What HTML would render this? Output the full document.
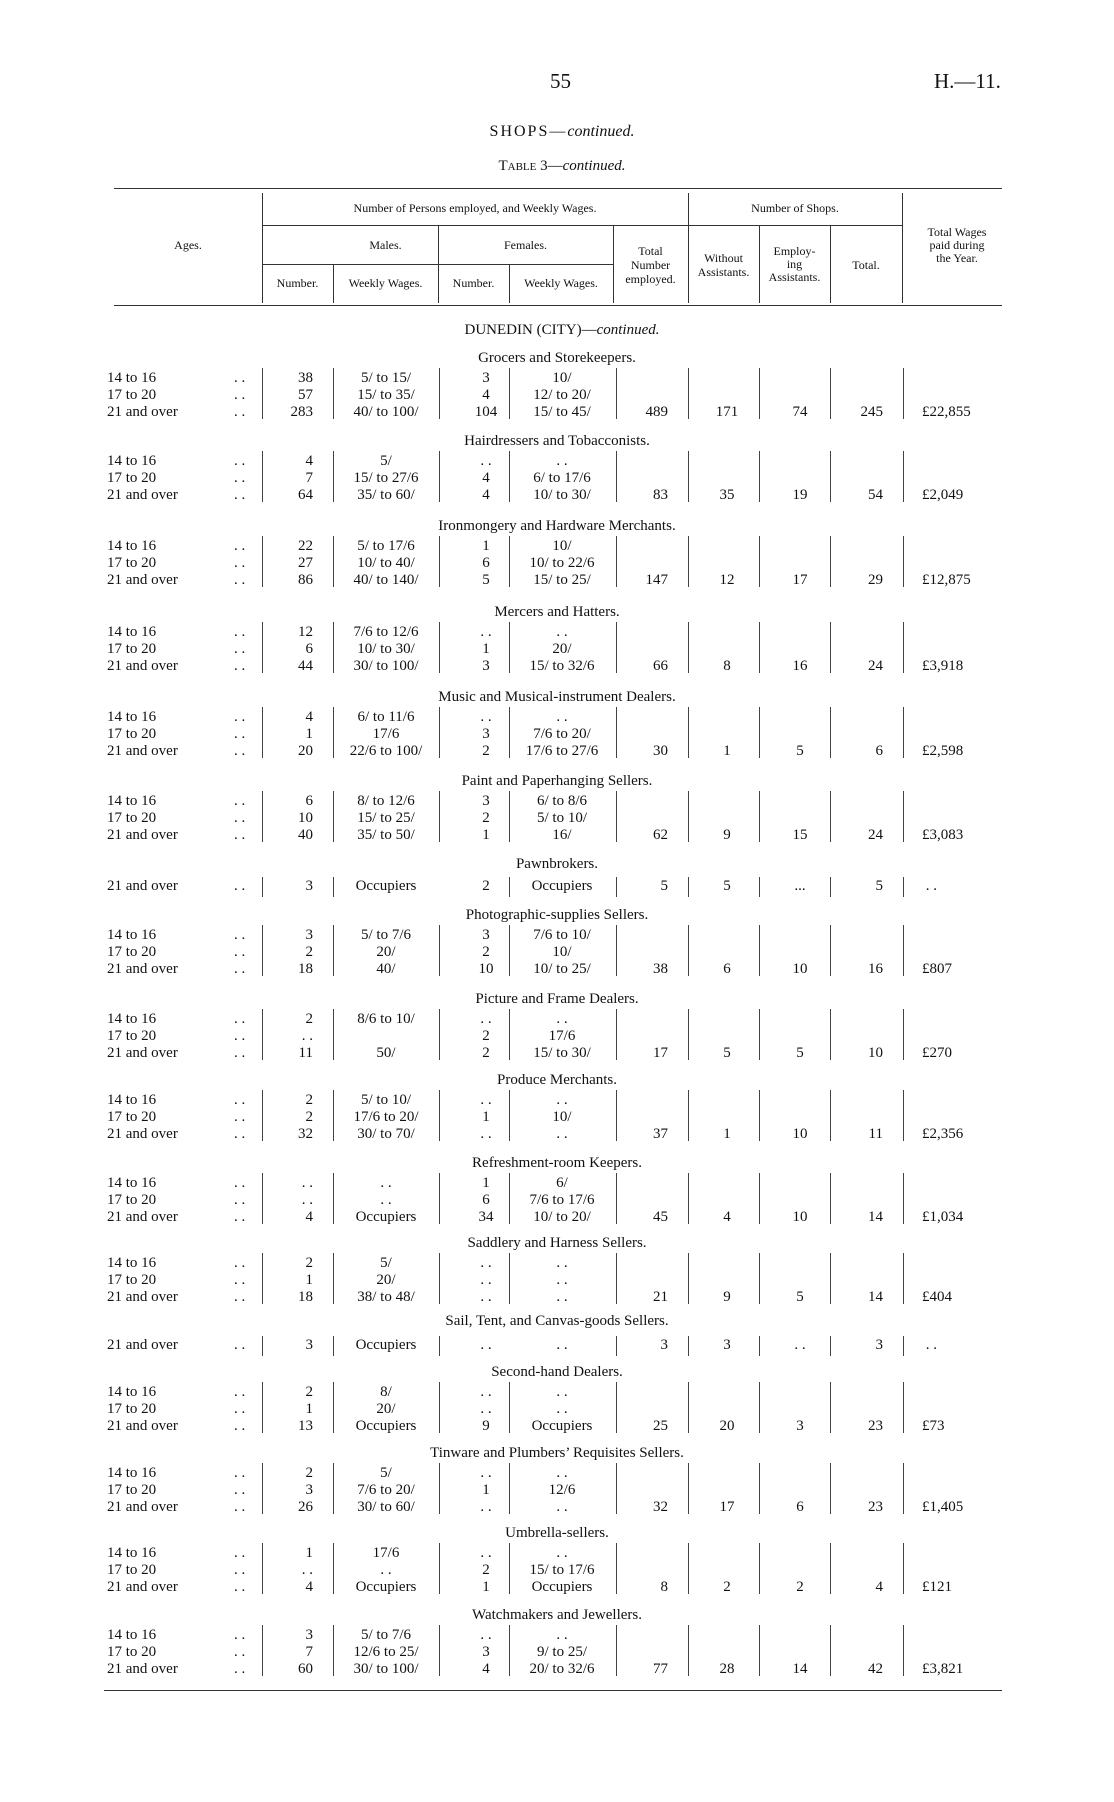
<!DOCTYPE html>
<html><head><meta charset="utf-8"><style>
body{margin:0;width:1114px;height:1802px;background:#fff;position:relative;font-family:"Liberation Serif",serif;color:#111;overflow:hidden}
.t{position:absolute;white-space:nowrap}
.h{position:absolute;font-size:12px;line-height:14px;text-align:center;white-space:nowrap}
.hr{position:absolute;height:0;border-top:1.5px solid #333}
.vl{position:absolute;width:0;border-left:1px solid #333}
.sec{position:absolute;left:0;width:1114px;height:70px}
.ti{position:absolute;left:0;width:1114px;text-align:center;font-size:15px;line-height:18px;top:0}
.r{position:absolute;left:0;width:1114px;height:18px;font-size:15px;line-height:18px}
.r span{position:absolute;top:0;white-space:nowrap}
.a{left:107px}.d{left:234px}
.mn{left:255px;width:58px;text-align:right}
.mw{left:336px;width:100px;text-align:center}
.fn{left:461px;width:50px;text-align:center}
.fw{left:511px;width:102px;text-align:center}
.tn{left:612px;width:56px;text-align:right}
.wo{left:694px;width:66px;text-align:center}
.em{left:767px;width:66px;text-align:center}
.to{left:833px;width:50px;text-align:right}
.wg{left:922px}
.v{position:absolute;width:0;border-left:1px solid #444;top:19px;height:51px}
.v1{position:absolute;width:0;border-left:1px solid #444;height:20px}
.s1{left:262px}.s2{left:333px}.s3{left:439px}.s4{left:509px}.s5{left:616px}.s6{left:688px}.s7{left:759px}.s8{left:830px}.s9{left:903px}
</style></head><body>
<div class="t" style="left:550px;top:69px;font-size:21px">55</div>
<div class="t" style="left:934px;top:69px;font-size:21px">H.—11.</div>
<div class="t" style="left:0;width:1124px;text-align:center;top:123px;font-size:16px;letter-spacing:2px">SHOPS—<i style="letter-spacing:0">continued.</i></div>
<div class="t" style="left:0;width:1124px;text-align:center;top:158px;font-size:15px"><span style="font-variant:small-caps">Table</span> 3—<i>continued.</i></div>

<div class="hr" style="left:114px;width:888px;top:188px"></div>
<div class="hr" style="left:114px;width:888px;top:305px"></div>
<div class="hr" style="left:262px;width:426px;top:225px;border-top-width:1px"></div>
<div class="hr" style="left:688px;width:214px;top:225px;border-top-width:1px"></div>
<div class="hr" style="left:262px;width:351px;top:264px;border-top-width:1px"></div>
<div class="vl" style="left:262px;top:193px;height:110px"></div>
<div class="vl" style="left:333px;top:264px;height:39px"></div>
<div class="vl" style="left:438px;top:225px;height:78px"></div>
<div class="vl" style="left:509px;top:264px;height:39px"></div>
<div class="vl" style="left:613px;top:225px;height:78px"></div>
<div class="vl" style="left:688px;top:193px;height:110px"></div>
<div class="vl" style="left:759px;top:225px;height:78px"></div>
<div class="vl" style="left:830px;top:225px;height:78px"></div>
<div class="vl" style="left:902px;top:193px;height:110px"></div>
<div class="h" style="left:148px;width:80px;top:238px">Ages.</div>
<div class="h" style="left:262px;width:426px;top:201px">Number of Persons employed, and Weekly Wages.</div>
<div class="h" style="left:688px;width:214px;top:201px">Number of Shops.</div>
<div class="h" style="left:902px;width:110px;top:226px;line-height:13px">Total Wages<br>paid during<br>the Year.</div>
<div class="h" style="left:333px;width:105px;top:238px">Males.</div>
<div class="h" style="left:438px;width:175px;top:238px">Females.</div>
<div class="h" style="left:613px;width:75px;top:244px">Total<br>Number<br>employed.</div>
<div class="h" style="left:688px;width:71px;top:251px">Without<br>Assistants.</div>
<div class="h" style="left:759px;width:71px;top:245px;line-height:13px">Employ-<br>ing<br>Assistants.</div>
<div class="h" style="left:830px;width:72px;top:258px">Total.</div>
<div class="h" style="left:262px;width:71px;top:276px">Number.</div>
<div class="h" style="left:333px;width:105px;top:276px">Weekly Wages.</div>
<div class="h" style="left:438px;width:71px;top:276px">Number.</div>
<div class="h" style="left:509px;width:104px;top:276px">Weekly Wages.</div>

<div class="t" style="left:0;width:1124px;text-align:center;top:322px;font-size:15px">DUNEDIN (CITY)—<i>continued.</i></div>

<div class="sec" style="top:349px"><div class="ti">Grocers and Storekeepers.</div>
<div class="v s1"></div><div class="v s2"></div><div class="v s3"></div><div class="v s4"></div><div class="v s5"></div><div class="v s6"></div><div class="v s7"></div><div class="v s8"></div><div class="v s9"></div>
<div class="r" style="top:20px"><span class="a">14 to 16</span><span class="d">. .</span><span class="mn">38</span><span class="mw">5/ to 15/</span><span class="fn">3</span><span class="fw">10/</span></div>
<div class="r" style="top:37px"><span class="a">17 to 20</span><span class="d">. .</span><span class="mn">57</span><span class="mw">15/ to 35/</span><span class="fn">4</span><span class="fw">12/ to 20/</span></div>
<div class="r" style="top:54px"><span class="a">21 and over</span><span class="d">. .</span><span class="mn">283</span><span class="mw">40/ to 100/</span><span class="fn">104</span><span class="fw">15/ to 45/</span><span class="tn">489</span><span class="wo">171</span><span class="em">74</span><span class="to">245</span><span class="wg">£22,855</span></div></div>

<div class="sec" style="top:432px"><div class="ti">Hairdressers and Tobacconists.</div>
<div class="v s1"></div><div class="v s2"></div><div class="v s3"></div><div class="v s4"></div><div class="v s5"></div><div class="v s6"></div><div class="v s7"></div><div class="v s8"></div><div class="v s9"></div>
<div class="r" style="top:20px"><span class="a">14 to 16</span><span class="d">. .</span><span class="mn">4</span><span class="mw">5/</span><span class="fn">. .</span><span class="fw">. .</span></div>
<div class="r" style="top:37px"><span class="a">17 to 20</span><span class="d">. .</span><span class="mn">7</span><span class="mw">15/ to 27/6</span><span class="fn">4</span><span class="fw">6/ to 17/6</span></div>
<div class="r" style="top:54px"><span class="a">21 and over</span><span class="d">. .</span><span class="mn">64</span><span class="mw">35/ to 60/</span><span class="fn">4</span><span class="fw">10/ to 30/</span><span class="tn">83</span><span class="wo">35</span><span class="em">19</span><span class="to">54</span><span class="wg">£2,049</span></div></div>

<div class="sec" style="top:517px"><div class="ti">Ironmongery and Hardware Merchants.</div>
<div class="v s1"></div><div class="v s2"></div><div class="v s3"></div><div class="v s4"></div><div class="v s5"></div><div class="v s6"></div><div class="v s7"></div><div class="v s8"></div><div class="v s9"></div>
<div class="r" style="top:20px"><span class="a">14 to 16</span><span class="d">. .</span><span class="mn">22</span><span class="mw">5/ to 17/6</span><span class="fn">1</span><span class="fw">10/</span></div>
<div class="r" style="top:37px"><span class="a">17 to 20</span><span class="d">. .</span><span class="mn">27</span><span class="mw">10/ to 40/</span><span class="fn">6</span><span class="fw">10/ to 22/6</span></div>
<div class="r" style="top:54px"><span class="a">21 and over</span><span class="d">. .</span><span class="mn">86</span><span class="mw">40/ to 140/</span><span class="fn">5</span><span class="fw">15/ to 25/</span><span class="tn">147</span><span class="wo">12</span><span class="em">17</span><span class="to">29</span><span class="wg">£12,875</span></div></div>

<div class="sec" style="top:603px"><div class="ti">Mercers and Hatters.</div>
<div class="v s1"></div><div class="v s2"></div><div class="v s3"></div><div class="v s4"></div><div class="v s5"></div><div class="v s6"></div><div class="v s7"></div><div class="v s8"></div><div class="v s9"></div>
<div class="r" style="top:20px"><span class="a">14 to 16</span><span class="d">. .</span><span class="mn">12</span><span class="mw">7/6 to 12/6</span><span class="fn">. .</span><span class="fw">. .</span></div>
<div class="r" style="top:37px"><span class="a">17 to 20</span><span class="d">. .</span><span class="mn">6</span><span class="mw">10/ to 30/</span><span class="fn">1</span><span class="fw">20/</span></div>
<div class="r" style="top:54px"><span class="a">21 and over</span><span class="d">. .</span><span class="mn">44</span><span class="mw">30/ to 100/</span><span class="fn">3</span><span class="fw">15/ to 32/6</span><span class="tn">66</span><span class="wo">8</span><span class="em">16</span><span class="to">24</span><span class="wg">£3,918</span></div></div>

<div class="sec" style="top:688px"><div class="ti">Music and Musical-instrument Dealers.</div>
<div class="v s1"></div><div class="v s2"></div><div class="v s3"></div><div class="v s4"></div><div class="v s5"></div><div class="v s6"></div><div class="v s7"></div><div class="v s8"></div><div class="v s9"></div>
<div class="r" style="top:20px"><span class="a">14 to 16</span><span class="d">. .</span><span class="mn">4</span><span class="mw">6/ to 11/6</span><span class="fn">. .</span><span class="fw">. .</span></div>
<div class="r" style="top:37px"><span class="a">17 to 20</span><span class="d">. .</span><span class="mn">1</span><span class="mw">17/6</span><span class="fn">3</span><span class="fw">7/6 to 20/</span></div>
<div class="r" style="top:54px"><span class="a">21 and over</span><span class="d">. .</span><span class="mn">20</span><span class="mw">22/6 to 100/</span><span class="fn">2</span><span class="fw">17/6 to 27/6</span><span class="tn">30</span><span class="wo">1</span><span class="em">5</span><span class="to">6</span><span class="wg">£2,598</span></div></div>

<div class="sec" style="top:772px"><div class="ti">Paint and Paperhanging Sellers.</div>
<div class="v s1"></div><div class="v s2"></div><div class="v s3"></div><div class="v s4"></div><div class="v s5"></div><div class="v s6"></div><div class="v s7"></div><div class="v s8"></div><div class="v s9"></div>
<div class="r" style="top:20px"><span class="a">14 to 16</span><span class="d">. .</span><span class="mn">6</span><span class="mw">8/ to 12/6</span><span class="fn">3</span><span class="fw">6/ to 8/6</span></div>
<div class="r" style="top:37px"><span class="a">17 to 20</span><span class="d">. .</span><span class="mn">10</span><span class="mw">15/ to 25/</span><span class="fn">2</span><span class="fw">5/ to 10/</span></div>
<div class="r" style="top:54px"><span class="a">21 and over</span><span class="d">. .</span><span class="mn">40</span><span class="mw">35/ to 50/</span><span class="fn">1</span><span class="fw">16/</span><span class="tn">62</span><span class="wo">9</span><span class="em">15</span><span class="to">24</span><span class="wg">£3,083</span></div></div>

<div class="sec" style="top:855px"><div class="ti">Pawnbrokers.</div>
<div class="v1 s1" style="top:22px"></div><div class="v1 s2" style="top:22px"></div><div class="v1 s4" style="top:22px"></div><div class="v1 s5" style="top:22px"></div><div class="v1 s6" style="top:22px"></div><div class="v1 s7" style="top:22px"></div><div class="v1 s8" style="top:22px"></div><div class="v1 s9" style="top:22px"></div>
<div class="r" style="top:22px"><span class="a">21 and over</span><span class="d">. .</span><span class="mn">3</span><span class="mw">Occupiers</span><span class="fn">2</span><span class="fw">Occupiers</span><span class="tn">5</span><span class="wo">5</span><span class="em">...</span><span class="to">5</span><span class="wg">&nbsp;. .</span></div></div>

<div class="sec" style="top:906px"><div class="ti">Photographic-supplies Sellers.</div>
<div class="v s1"></div><div class="v s2"></div><div class="v s3"></div><div class="v s4"></div><div class="v s5"></div><div class="v s6"></div><div class="v s7"></div><div class="v s8"></div><div class="v s9"></div>
<div class="r" style="top:20px"><span class="a">14 to 16</span><span class="d">. .</span><span class="mn">3</span><span class="mw">5/ to 7/6</span><span class="fn">3</span><span class="fw">7/6 to 10/</span></div>
<div class="r" style="top:37px"><span class="a">17 to 20</span><span class="d">. .</span><span class="mn">2</span><span class="mw">20/</span><span class="fn">2</span><span class="fw">10/</span></div>
<div class="r" style="top:54px"><span class="a">21 and over</span><span class="d">. .</span><span class="mn">18</span><span class="mw">40/</span><span class="fn">10</span><span class="fw">10/ to 25/</span><span class="tn">38</span><span class="wo">6</span><span class="em">10</span><span class="to">16</span><span class="wg">£807</span></div></div>

<div class="sec" style="top:990px"><div class="ti">Picture and Frame Dealers.</div>
<div class="v s1"></div><div class="v s2"></div><div class="v s3"></div><div class="v s4"></div><div class="v s5"></div><div class="v s6"></div><div class="v s7"></div><div class="v s8"></div><div class="v s9"></div>
<div class="r" style="top:20px"><span class="a">14 to 16</span><span class="d">. .</span><span class="mn">2</span><span class="mw">8/6 to 10/</span><span class="fn">. .</span><span class="fw">. .</span></div>
<div class="r" style="top:37px"><span class="a">17 to 20</span><span class="d">. .</span><span class="mn">. .</span><span class="fn">2</span><span class="fw">17/6</span></div>
<div class="r" style="top:54px"><span class="a">21 and over</span><span class="d">. .</span><span class="mn">11</span><span class="mw">50/</span><span class="fn">2</span><span class="fw">15/ to 30/</span><span class="tn">17</span><span class="wo">5</span><span class="em">5</span><span class="to">10</span><span class="wg">£270</span></div></div>

<div class="sec" style="top:1071px"><div class="ti">Produce Merchants.</div>
<div class="v s1"></div><div class="v s2"></div><div class="v s3"></div><div class="v s4"></div><div class="v s5"></div><div class="v s6"></div><div class="v s7"></div><div class="v s8"></div><div class="v s9"></div>
<div class="r" style="top:20px"><span class="a">14 to 16</span><span class="d">. .</span><span class="mn">2</span><span class="mw">5/ to 10/</span><span class="fn">. .</span><span class="fw">. .</span></div>
<div class="r" style="top:37px"><span class="a">17 to 20</span><span class="d">. .</span><span class="mn">2</span><span class="mw">17/6 to 20/</span><span class="fn">1</span><span class="fw">10/</span></div>
<div class="r" style="top:54px"><span class="a">21 and over</span><span class="d">. .</span><span class="mn">32</span><span class="mw">30/ to 70/</span><span class="fn">. .</span><span class="fw">. .</span><span class="tn">37</span><span class="wo">1</span><span class="em">10</span><span class="to">11</span><span class="wg">£2,356</span></div></div>

<div class="sec" style="top:1154px"><div class="ti">Refreshment-room Keepers.</div>
<div class="v s1"></div><div class="v s2"></div><div class="v s3"></div><div class="v s4"></div><div class="v s5"></div><div class="v s6"></div><div class="v s7"></div><div class="v s8"></div><div class="v s9"></div>
<div class="r" style="top:20px"><span class="a">14 to 16</span><span class="d">. .</span><span class="mn">. .</span><span class="mw">. .</span><span class="fn">1</span><span class="fw">6/</span></div>
<div class="r" style="top:37px"><span class="a">17 to 20</span><span class="d">. .</span><span class="mn">. .</span><span class="mw">. .</span><span class="fn">6</span><span class="fw">7/6 to 17/6</span></div>
<div class="r" style="top:54px"><span class="a">21 and over</span><span class="d">. .</span><span class="mn">4</span><span class="mw">Occupiers</span><span class="fn">34</span><span class="fw">10/ to 20/</span><span class="tn">45</span><span class="wo">4</span><span class="em">10</span><span class="to">14</span><span class="wg">£1,034</span></div></div>

<div class="sec" style="top:1234px"><div class="ti">Saddlery and Harness Sellers.</div>
<div class="v s1"></div><div class="v s2"></div><div class="v s3"></div><div class="v s4"></div><div class="v s5"></div><div class="v s6"></div><div class="v s7"></div><div class="v s8"></div><div class="v s9"></div>
<div class="r" style="top:20px"><span class="a">14 to 16</span><span class="d">. .</span><span class="mn">2</span><span class="mw">5/</span><span class="fn">. .</span><span class="fw">. .</span></div>
<div class="r" style="top:37px"><span class="a">17 to 20</span><span class="d">. .</span><span class="mn">1</span><span class="mw">20/</span><span class="fn">. .</span><span class="fw">. .</span></div>
<div class="r" style="top:54px"><span class="a">21 and over</span><span class="d">. .</span><span class="mn">18</span><span class="mw">38/ to 48/</span><span class="fn">. .</span><span class="fw">. .</span><span class="tn">21</span><span class="wo">9</span><span class="em">5</span><span class="to">14</span><span class="wg">£404</span></div></div>

<div class="sec" style="top:1312px"><div class="ti">Sail, Tent, and Canvas-goods Sellers.</div>
<div class="v1 s1" style="top:24px"></div><div class="v1 s2" style="top:24px"></div><div class="v1 s3" style="top:24px"></div><div class="v1 s5" style="top:24px"></div><div class="v1 s6" style="top:24px"></div><div class="v1 s7" style="top:24px"></div><div class="v1 s8" style="top:24px"></div><div class="v1 s9" style="top:24px"></div>
<div class="r" style="top:24px"><span class="a">21 and over</span><span class="d">. .</span><span class="mn">3</span><span class="mw">Occupiers</span><span class="fn">. .</span><span class="fw">. .</span><span class="tn">3</span><span class="wo">3</span><span class="em">. .</span><span class="to">3</span><span class="wg">&nbsp;. .</span></div></div>

<div class="sec" style="top:1363px"><div class="ti">Second-hand Dealers.</div>
<div class="v s1"></div><div class="v s2"></div><div class="v s3"></div><div class="v s4"></div><div class="v s5"></div><div class="v s6"></div><div class="v s7"></div><div class="v s8"></div><div class="v s9"></div>
<div class="r" style="top:20px"><span class="a">14 to 16</span><span class="d">. .</span><span class="mn">2</span><span class="mw">8/</span><span class="fn">. .</span><span class="fw">. .</span></div>
<div class="r" style="top:37px"><span class="a">17 to 20</span><span class="d">. .</span><span class="mn">1</span><span class="mw">20/</span><span class="fn">. .</span><span class="fw">. .</span></div>
<div class="r" style="top:54px"><span class="a">21 and over</span><span class="d">. .</span><span class="mn">13</span><span class="mw">Occupiers</span><span class="fn">9</span><span class="fw">Occupiers</span><span class="tn">25</span><span class="wo">20</span><span class="em">3</span><span class="to">23</span><span class="wg">£73</span></div></div>

<div class="sec" style="top:1444px"><div class="ti">Tinware and Plumbers’ Requisites Sellers.</div>
<div class="v s1"></div><div class="v s2"></div><div class="v s3"></div><div class="v s4"></div><div class="v s5"></div><div class="v s6"></div><div class="v s7"></div><div class="v s8"></div><div class="v s9"></div>
<div class="r" style="top:20px"><span class="a">14 to 16</span><span class="d">. .</span><span class="mn">2</span><span class="mw">5/</span><span class="fn">. .</span><span class="fw">. .</span></div>
<div class="r" style="top:37px"><span class="a">17 to 20</span><span class="d">. .</span><span class="mn">3</span><span class="mw">7/6 to 20/</span><span class="fn">1</span><span class="fw">12/6</span></div>
<div class="r" style="top:54px"><span class="a">21 and over</span><span class="d">. .</span><span class="mn">26</span><span class="mw">30/ to 60/</span><span class="fn">. .</span><span class="fw">. .</span><span class="tn">32</span><span class="wo">17</span><span class="em">6</span><span class="to">23</span><span class="wg">£1,405</span></div></div>

<div class="sec" style="top:1524px"><div class="ti">Umbrella-sellers.</div>
<div class="v s1"></div><div class="v s2"></div><div class="v s3"></div><div class="v s4"></div><div class="v s5"></div><div class="v s6"></div><div class="v s7"></div><div class="v s8"></div><div class="v s9"></div>
<div class="r" style="top:20px"><span class="a">14 to 16</span><span class="d">. .</span><span class="mn">1</span><span class="mw">17/6</span><span class="fn">. .</span><span class="fw">. .</span></div>
<div class="r" style="top:37px"><span class="a">17 to 20</span><span class="d">. .</span><span class="mn">. .</span><span class="mw">. .</span><span class="fn">2</span><span class="fw">15/ to 17/6</span></div>
<div class="r" style="top:54px"><span class="a">21 and over</span><span class="d">. .</span><span class="mn">4</span><span class="mw">Occupiers</span><span class="fn">1</span><span class="fw">Occupiers</span><span class="tn">8</span><span class="wo">2</span><span class="em">2</span><span class="to">4</span><span class="wg">£121</span></div></div>

<div class="sec" style="top:1606px"><div class="ti">Watchmakers and Jewellers.</div>
<div class="v s1"></div><div class="v s2"></div><div class="v s3"></div><div class="v s4"></div><div class="v s5"></div><div class="v s6"></div><div class="v s7"></div><div class="v s8"></div><div class="v s9"></div>
<div class="r" style="top:20px"><span class="a">14 to 16</span><span class="d">. .</span><span class="mn">3</span><span class="mw">5/ to 7/6</span><span class="fn">. .</span><span class="fw">. .</span></div>
<div class="r" style="top:37px"><span class="a">17 to 20</span><span class="d">. .</span><span class="mn">7</span><span class="mw">12/6 to 25/</span><span class="fn">3</span><span class="fw">9/ to 25/</span></div>
<div class="r" style="top:54px"><span class="a">21 and over</span><span class="d">. .</span><span class="mn">60</span><span class="mw">30/ to 100/</span><span class="fn">4</span><span class="fw">20/ to 32/6</span><span class="tn">77</span><span class="wo">28</span><span class="em">14</span><span class="to">42</span><span class="wg">£3,821</span></div></div>

<div class="hr" style="left:104px;width:898px;top:1690px;border-top-width:1px"></div>
</body></html>
